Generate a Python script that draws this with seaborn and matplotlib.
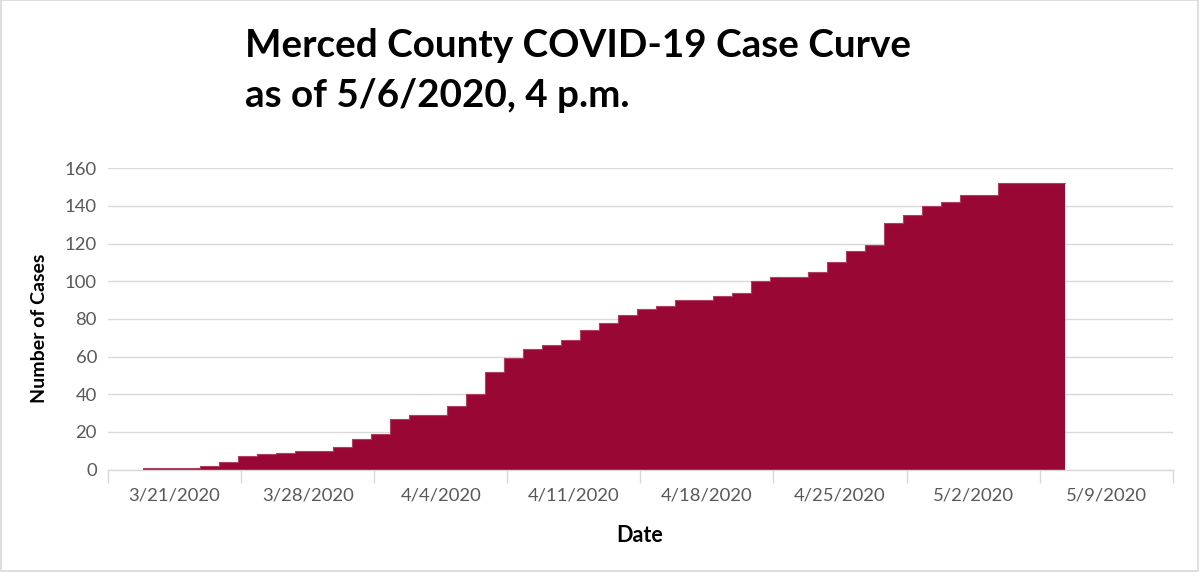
import matplotlib
matplotlib.use("Agg")
import matplotlib.pyplot as plt
import matplotlib.dates as mdates
from matplotlib.ticker import FixedLocator, FixedFormatter, NullFormatter
from matplotlib.patches import Rectangle
import seaborn as sns
import pandas as pd
import numpy as np

# ---------------- data ----------------
dates = pd.date_range("2020-03-20", "2020-05-06", freq="D")
cases = [1, 1, 1, 2, 4, 7, 8, 9, 10, 10,
         12, 16, 19, 27, 29, 29, 34, 40, 52, 59,
         64, 66, 69, 74, 78, 82, 85, 87, 90, 90,
         92, 94, 100, 102, 102, 105, 110, 116, 119, 131,
         135, 140, 142, 146, 146, 152, 152, 152]
tick_labels = ["3/21/2020", "3/28/2020", "4/4/2020", "4/11/2020",
               "4/18/2020", "4/25/2020", "5/2/2020", "5/9/2020"]
y_ticks = [0, 20, 40, 60, 80, 100, 120, 140, 160]
title_lines = ["Merced County COVID-19 Case Curve", "as of 5/6/2020, 4 p.m."]

# ---------------- style ----------------
sns.set_theme(style="white")
plt.rcParams["font.family"] = ["Lato", "DejaVu Sans"]
AREA = "#990735"
GRID = "#d9d9d9"
TXT = "#595959"

fig = plt.figure(figsize=(12, 5.78), dpi=100)
ax = fig.add_axes([0.09, 0.1877, 0.8873, 0.5211])

df = pd.DataFrame({"date": dates, "cases": cases})
# step edges: each day a slot; last slot drawn a little wider as in source
x_edges = list(df["date"]) + [df["date"].iloc[-1] + pd.Timedelta(days=1.5)]
y_edges = list(df["cases"]) + [df["cases"].iloc[-1]]
ax.fill_between(x_edges, y_edges, step="post", color=AREA, linewidth=0, zorder=2)
sns.lineplot(x=x_edges, y=y_edges, drawstyle="steps-post", color="#b0405f",
             linewidth=0.8, ax=ax, zorder=3)

x0 = pd.Timestamp("2020-03-18 04:00")
ax.set_xlim(mdates.date2num(x0), mdates.date2num(x0 + pd.Timedelta(days=56)))
ax.set_ylim(0, 160)

major = [mdates.date2num(x0 + pd.Timedelta(days=7 * k)) for k in range(9)]
minor = [m + 3.5 for m in major[:-1]]
ax.xaxis.set_major_locator(FixedLocator(major))
ax.xaxis.set_major_formatter(NullFormatter())
ax.xaxis.set_minor_locator(FixedLocator(minor))
ax.xaxis.set_minor_formatter(FixedFormatter(tick_labels))
ax.tick_params(axis="x", which="major", length=9, width=1, color=GRID, direction="out", bottom=True)
ax.tick_params(axis="x", which="minor", length=0, pad=13, labelsize=13.3, labelcolor=TXT)

ax.set_yticks(y_ticks)
ax.tick_params(axis="y", length=0, pad=8, labelsize=13.3, labelcolor=TXT)
ax.yaxis.grid(True, color=GRID, linewidth=1)
ax.set_axisbelow(True)

for s in ["top", "right", "left"]:
    ax.spines[s].set_visible(False)
ax.spines["bottom"].set_color(GRID)
ax.spines["bottom"].set_linewidth(1)
ax.spines["bottom"].set_zorder(4)

ax.set_xlabel("")
ax.set_ylabel("")
fig.text(640 / 1200, 1 - 535 / 578, "Date", ha="center", va="center",
         fontsize=15.5, fontweight="bold", color="black")
fig.text(40 / 1200, 1 - 328 / 578, "Number of Cases", ha="center", va="center",
         rotation=90, fontsize=14, fontweight="bold", color="black")

fig.text(245 / 1200, 1 - 56.7 / 578, title_lines[0], ha="left", va="baseline",
         fontsize=27.8, fontweight="bold", color="black")
fig.text(245 / 1200, 1 - 106.7 / 578, title_lines[1], ha="left", va="baseline",
         fontsize=27.8, fontweight="bold", color="black")

fig.patches.append(Rectangle((0.0005, 7 / 578), 0.9975, 1 - 7 / 578 - 0.0005,
                             transform=fig.transFigure, fill=False,
                             edgecolor=GRID, linewidth=1.2))

fig.savefig("out.png", dpi=100)
